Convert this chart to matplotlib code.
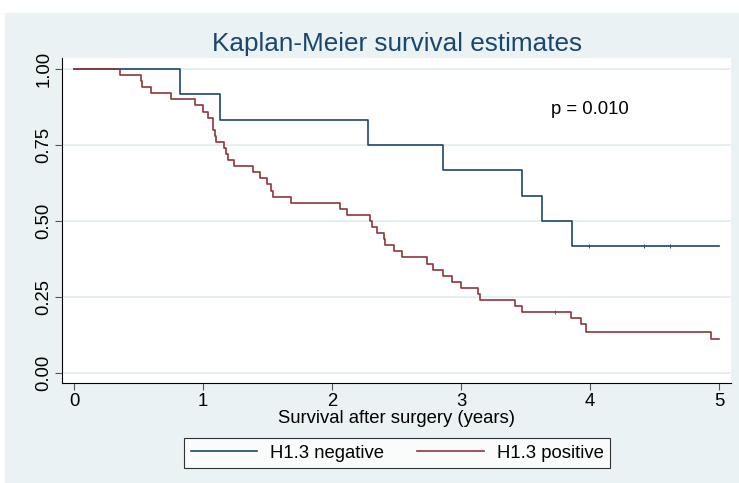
import matplotlib.pyplot as plt
from matplotlib.patches import Rectangle

plt.rcParams['font.family'] = ['Liberation Sans', 'DejaVu Sans']

# step times (years) and survival estimates for each group
times_neg = [0, 0.82, 1.13, 2.28, 2.86, 3.47, 3.63, 3.86, 5.0]
surv_neg = [1.0, 0.917, 0.833, 0.75, 0.667, 0.583, 0.5, 0.417, 0.417]
censor_neg = [3.99, 4.42, 4.62]

times_pos = [0, 0.36, 0.52, 0.53, 0.60, 0.75, 0.94, 1.00, 1.035, 1.075,
             1.08, 1.09, 1.10, 1.16, 1.175, 1.195, 1.24, 1.39, 1.44, 1.50,
             1.53, 1.545, 1.68, 2.065, 2.12, 2.295, 2.31, 2.345, 2.40, 2.41,
             2.48, 2.54, 2.74, 2.78, 2.86, 2.93, 3.00, 3.135, 3.15, 3.42,
             3.47, 3.855, 3.93, 3.97, 4.94, 5.0]
surv_pos = [1.00, 0.98, 0.96, 0.94, 0.92, 0.90, 0.88, 0.86, 0.84, 0.82,
            0.80, 0.78, 0.76, 0.74, 0.72, 0.70, 0.68, 0.66, 0.64, 0.62,
            0.60, 0.58, 0.56, 0.54, 0.52, 0.50, 0.48, 0.46, 0.44, 0.42,
            0.40, 0.38, 0.36, 0.34, 0.32, 0.30, 0.28, 0.26, 0.24, 0.22,
            0.20, 0.18, 0.16, 0.134, 0.112, 0.112]
censor_pos = [3.73]

labels = ['H1.3 negative', 'H1.3 positive']
p_text = 'p = 0.010'

navy = '#1a476f'
maroon = '#90353b'
bg = '#eaf2f3'
fs = 13.3

fig = plt.figure(figsize=(7.39, 4.83), dpi=100, facecolor='white')
fig.patches.append(Rectangle((5 / 739, 0), 1, (483 - 13) / 483,
                             transform=fig.transFigure, color=bg, zorder=-1))

ax = fig.add_axes([62 / 739, 100 / 483, 669 / 739, 325 / 483])
ax.set_facecolor('white')

ax.step(times_neg, surv_neg, where='post', color=navy, lw=1.2, label=labels[0])
ax.step(times_pos, surv_pos, where='post', color=maroon, lw=1.2, label=labels[1])
ax.plot(censor_neg, [surv_neg[-1]] * len(censor_neg), ls='none', marker='|',
        ms=3, mew=0.6, color=navy)
ax.plot(censor_pos, [0.20] * len(censor_pos), ls='none', marker='|',
        ms=3, mew=0.6, color=maroon)

ax.set_xlim(-0.093, 5.093)
ax.set_ylim(-0.033, 1.036)
ax.set_xticks(range(6))
ax.set_yticks([0, 0.25, 0.5, 0.75, 1.0])
ax.set_yticklabels(['0.00', '0.25', '0.50', '0.75', '1.00'],
                   rotation=90, va='center')
ax.yaxis.grid(True, color='#e6eef0', lw=1.5)
ax.set_axisbelow(True)
for s in ['top', 'right']:
    ax.spines[s].set_visible(False)
ax.tick_params(direction='out', length=5, width=0.8, color='#555555',
               labelsize=fs, pad=2)

ax.text(4.0, 0.865, p_text, ha='center', va='center', fontsize=fs)
ax.set_xlabel('Survival after surgery (years)', fontsize=fs, labelpad=0)
fig.text(397 / 739, 1 - 44 / 483, 'Kaplan-Meier survival estimates',
         ha='center', va='center', fontsize=18.8, color=navy)

leg = fig.legend(loc='center', bbox_to_anchor=(397 / 739, 1 - 453 / 483),
                 ncol=2, frameon=True, fancybox=False, fontsize=fs,
                 handlelength=3.6, columnspacing=1.8, borderpad=0.35,
                 handletextpad=0.7, borderaxespad=0)
leg.get_frame().set_edgecolor('black')
leg.get_frame().set_linewidth(0.8)

fig.savefig('out.png', dpi=100, facecolor='white')
